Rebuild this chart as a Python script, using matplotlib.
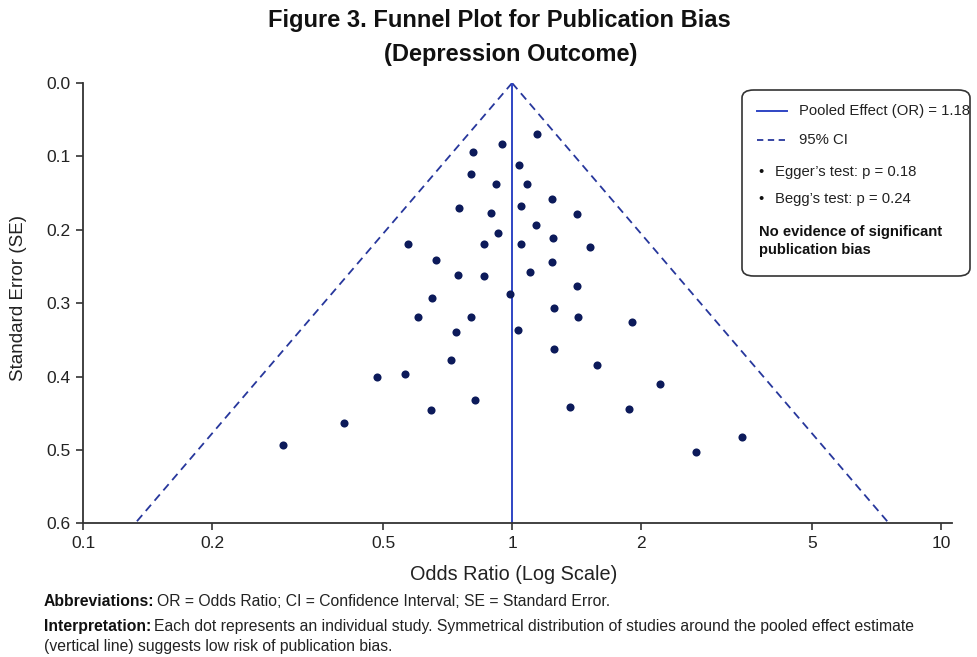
#!/usr/bin/env python3
# Funnel plot for publication bias (depression outcome)

import numpy as np
import matplotlib
matplotlib.use('Agg')
import matplotlib.pyplot as plt
from matplotlib.patches import FancyBboxPatch
from matplotlib.lines import Line2D

plt.rcParams['font.family'] = ['Liberation Sans', 'DejaVu Sans']

# study estimates
odds_ratio = [1.143, 0.945, 0.812, 1.04, 0.80, 0.918, 1.085, 1.242, 1.051, 0.753,
              0.894, 1.414, 1.135, 0.926, 1.246, 0.571, 0.861, 1.047, 1.521, 0.664,
              1.242, 1.099, 0.749, 0.861, 1.416, 0.99, 0.649, 1.251, 0.603, 0.804,
              1.423, 1.909, 1.032, 0.741, 1.251, 0.721, 1.577, 0.563, 0.483, 2.212,
              0.820, 1.368, 1.872, 0.647, 0.405, 3.43, 0.292, 2.69]
std_err = [0.070, 0.083, 0.094, 0.112, 0.124, 0.137, 0.137, 0.158, 0.167, 0.170,
           0.177, 0.178, 0.194, 0.205, 0.211, 0.219, 0.219, 0.219, 0.224, 0.241,
           0.244, 0.258, 0.261, 0.263, 0.277, 0.288, 0.293, 0.306, 0.319, 0.319,
           0.319, 0.326, 0.336, 0.339, 0.362, 0.378, 0.384, 0.396, 0.401, 0.410,
           0.432, 0.442, 0.444, 0.445, 0.464, 0.482, 0.493, 0.503]

pooled_label = 1.18      # value quoted in the legend
center_line = 1.0        # where the vertical line / funnel apex is drawn
funnel_k = 1.465         # log10 half-width of the funnel per unit SE
se_limits = [0.0, 0.6]

x_ticks = [0.1, 0.2, 0.5, 1, 2, 5, 10]
x_ticklabels = ['0.1', '0.2', '0.5', '1', '2', '5', '10']
y_ticks = [0.0, 0.1, 0.2, 0.3, 0.4, 0.5, 0.6]

egger_p = 0.18
begg_p = 0.24

W, H = 978, 657
fig = plt.figure(figsize=(W / 100, H / 100), dpi=100)

def fx(px):
    return px / W

def fy(py):
    return 1 - py / H

ax = fig.add_axes([fx(83.3), fy(523.3), fx(951.7) - fx(83.3), fy(83) - fy(523.3)])

line_col = '#2f45c4'
dash_col = '#27379c'
dot_col = '#0c1a5a'
spine_col = '#333333'

se_line = np.array(se_limits)
ax.plot(center_line * 10 ** (-funnel_k * se_line), se_line, ls=(0, (4.5, 3)), color=dash_col, lw=1.3)
ax.plot(center_line * 10 ** (funnel_k * se_line), se_line, ls=(0, (4.5, 3)), color=dash_col, lw=1.3)
ax.plot([center_line, center_line], se_limits, color=line_col, lw=1.4)

ax.scatter(odds_ratio, std_err, s=34, color=dot_col, zorder=3, linewidths=0)

ax.set_xscale('log')
ax.set_xlim(0.1, 10.6)
ax.set_ylim(se_limits[1], se_limits[0])
ax.set_xticks(x_ticks)
ax.set_xticklabels(x_ticklabels)
ax.xaxis.set_minor_locator(matplotlib.ticker.NullLocator())
ax.set_yticks(y_ticks)
ax.set_yticklabels(['%.1f' % v for v in y_ticks])

for s in ['top', 'right']:
    ax.spines[s].set_visible(False)
for s in ['left', 'bottom']:
    ax.spines[s].set_color(spine_col)
    ax.spines[s].set_linewidth(1.3)
ax.tick_params(direction='out', length=5, width=1.2, color=spine_col, labelsize=12.5,
               labelcolor='#222222', pad=4)

fig.text(fx(514), fy(574), 'Odds Ratio (Log Scale)', fontsize=14.3, ha='center', va='center', color='#222222')
fig.text(fx(19), fy(298), 'Standard Error (SE)', fontsize=13.5, rotation=90, ha='center', va='center', color='#222222')

fig.text(fx(499), fy(21), 'Figure 3. Funnel Plot for Publication Bias', fontsize=17,
         fontweight='bold', ha='center', va='center', color='#111111')
fig.text(fx(511), fy(54), '(Depression Outcome)', fontsize=17,
         fontweight='bold', ha='center', va='center', color='#111111')

# legend box drawn by hand
box = FancyBboxPatch((fx(742), fy(276)), fx(970) - fx(742), fy(90) - fy(276),
                     boxstyle='round,pad=0,rounding_size=0.012', transform=fig.transFigure,
                     facecolor='white', edgecolor='#333333', lw=1.2, zorder=5)
fig.patches.append(box)

fig.add_artist(Line2D([fx(757), fx(787)], [fy(111), fy(111)], color=line_col, lw=1.4, zorder=6))
fig.add_artist(Line2D([fx(757), fx(787)], [fy(140), fy(140)], color=dash_col, lw=1.3,
                      ls=(0, (3.5, 2.5)), zorder=6))
leg_fs = 10.7
fig.text(fx(799), fy(111), 'Pooled Effect (OR) = %.2f' % pooled_label, fontsize=leg_fs, va='center', zorder=6, color='#222222')
fig.text(fx(799), fy(140), '95% CI', fontsize=leg_fs, va='center', zorder=6, color='#222222')
fig.text(fx(758), fy(172), '•', fontsize=leg_fs, va='center', zorder=6, color='#111111')
fig.text(fx(775), fy(172), 'Egger\u2019s test: p = %.2f' % egger_p, fontsize=leg_fs, va='center', zorder=6, color='#222222')
fig.text(fx(758), fy(199), '•', fontsize=leg_fs, va='center', zorder=6, color='#111111')
fig.text(fx(775), fy(199), 'Begg\u2019s test: p = %.2f' % begg_p, fontsize=leg_fs, va='center', zorder=6, color='#222222')
fig.text(fx(759), fy(241), 'No evidence of significant\npublication bias', fontsize=10.6,
         fontweight='bold', va='center', linespacing=1.4, zorder=6, color='#111111')

# footnotes
foot_fs = 11.3
t = fig.text(fx(44), fy(601), 'Abbreviations:', fontsize=foot_fs, fontweight='bold', va='center', color='#111111')
fig.canvas.draw()
bb = t.get_window_extent()
fig.text(bb.x1 / W + 0.003, fy(601), 'OR = Odds Ratio; CI = Confidence Interval; SE = Standard Error.',
         fontsize=foot_fs, va='center', color='#222222')
t2 = fig.text(fx(44), fy(626), 'Interpretation:', fontsize=foot_fs, fontweight='bold', va='center', color='#111111')
bb2 = t2.get_window_extent(renderer=fig.canvas.get_renderer())
fig.text(bb2.x1 / W + 0.003, fy(626),
         'Each dot represents an individual study. Symmetrical distribution of studies around the pooled effect estimate',
         fontsize=foot_fs, va='center', color='#222222')
fig.text(fx(44), fy(646), '(vertical line) suggests low risk of publication bias.',
         fontsize=foot_fs, va='center', color='#222222')

fig.savefig('out.png', dpi=100)
